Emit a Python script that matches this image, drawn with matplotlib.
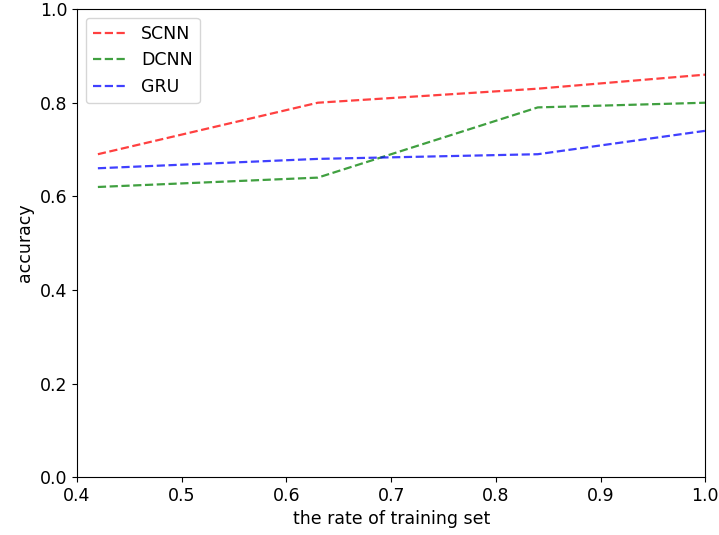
import matplotlib; matplotlib.use("Agg")
import matplotlib.pyplot as plt

rate = [0.42, 0.63, 0.84, 1.0]
scnn = [0.69, 0.80, 0.83, 0.86]
dcnn = [0.62, 0.64, 0.79, 0.80]
gru  = [0.66, 0.68, 0.69, 0.74]

plt.rcParams.update({'font.size': 12.5})
fig = plt.figure(figsize=(7.19, 5.35), dpi=100)
ax = fig.add_axes([0.107, 0.108, 0.874, 0.875])
ax.plot(rate, scnn, 'r--', alpha=0.75, lw=1.6, label='SCNN')
ax.plot(rate, dcnn, 'g--', alpha=0.75, lw=1.6, label='DCNN')
ax.plot(rate, gru, 'b--', alpha=0.75, lw=1.6, label='GRU')
ax.set_xlim(0.4, 1.0)
ax.set_ylim(0, 1.0)
ax.set_xlabel('the rate of training set')
ax.set_ylabel('accuracy')
ax.legend(loc='upper left')
fig.savefig('out.png', dpi=100)
